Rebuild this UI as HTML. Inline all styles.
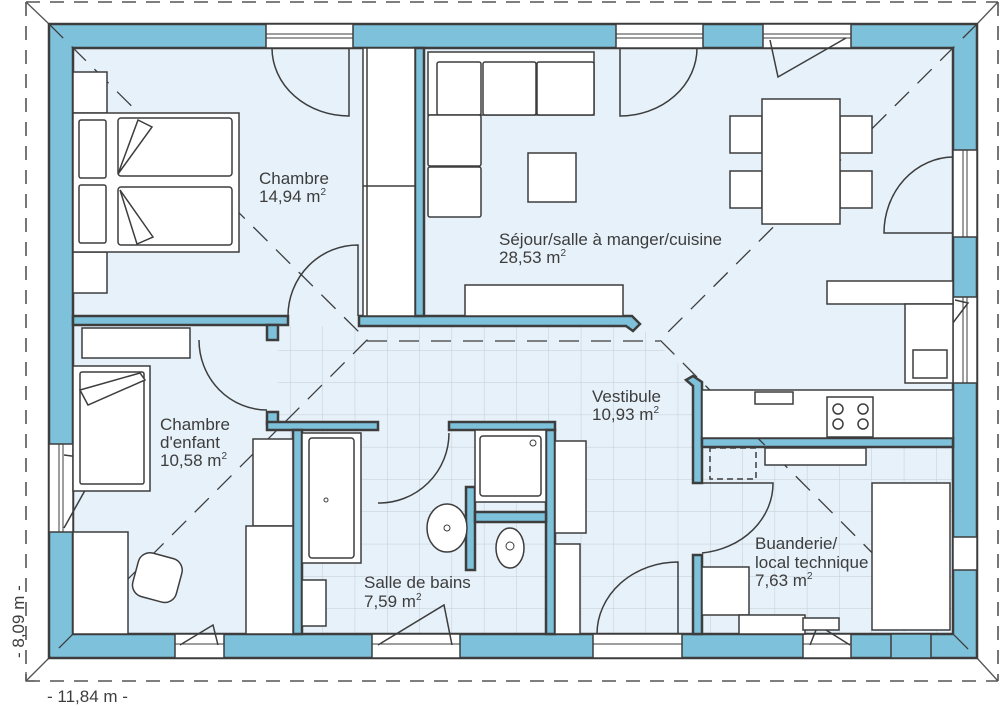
<!DOCTYPE html>
<html><head><meta charset="utf-8"><style>
html,body{margin:0;padding:0;background:#fff}
svg{display:block}
text{font-family:"Liberation Sans",sans-serif;font-size:17px;fill:#3d3d3d}
</style></head><body>
<svg width="1000" height="707" viewBox="0 0 1000 707" xmlns="http://www.w3.org/2000/svg">
<defs>
<pattern id="tiles" x="387" y="350" width="32.3" height="32.3" patternUnits="userSpaceOnUse">
<path d="M0 0V32.3M0 0H32.3" stroke="#c4ccd3" stroke-width="1" fill="none"/>
</pattern>
<clipPath id="tc"><polygon points="278,326 640,326 693,378 693,447 953,447 953,634 278,634"/></clipPath>
</defs>
<g stroke="#555" stroke-width="1.6" stroke-dasharray="14,10" fill="none">
<line x1="26" y1="2" x2="998" y2="2"/>
<line x1="26" y1="2" x2="26" y2="681"/>
<line x1="26" y1="681" x2="998" y2="681"/>
<line x1="998" y1="2" x2="998" y2="681"/>
</g>
<g stroke="#555" stroke-width="1.3" fill="none">
<line x1="26" y1="2" x2="49" y2="24"/><line x1="26" y1="681" x2="49" y2="658"/>
<line x1="998" y1="2" x2="977" y2="24"/><line x1="998" y1="681" x2="977" y2="658"/>
<path d="M26 672V681H35"/>
</g>
<rect x="73" y="48" width="880" height="586" fill="#e6f1f9"/>
<rect x="278" y="326" width="675" height="308" fill="url(#tiles)" clip-path="url(#tc)"/>
<path d="M49 24H977V658H49Z M73 48V634H953V48Z" fill="#7dc1da" fill-rule="evenodd" stroke="#3d3d3d" stroke-width="2.5"/>
<g fill="#7dc1da" stroke="#3d3d3d" stroke-width="2.5">
<rect x="73" y="316" width="215" height="9"/>
<rect x="267" y="325" width="11" height="15"/>
<path d="M359 316H632L640 324L633 331L626 326H359Z"/>
<rect x="415" y="48" width="9" height="268"/>
<rect x="267" y="412" width="11" height="12"/>
<rect x="267" y="422" width="111" height="8"/>
<rect x="293" y="430" width="9" height="204"/>
<rect x="449" y="422" width="106" height="8"/>
<rect x="546" y="430" width="9" height="204"/>
<rect x="466" y="487" width="9" height="83"/>
<rect x="475" y="512" width="71" height="10"/>
<path d="M686 380L693 376L702 382V483H693V386Z"/>
<rect x="693" y="555" width="9" height="79"/>
<rect x="702" y="438" width="251" height="9"/>
</g>
<g fill="#fff" stroke="#3d3d3d" stroke-width="1.5">
<rect x="266" y="24" width="87" height="24"/>
<rect x="616" y="24" width="87" height="24"/>
<rect x="763" y="24" width="88" height="24"/>
<rect x="953" y="150" width="24" height="87"/>
<rect x="953" y="297" width="24" height="86"/>
<rect x="953" y="537" width="24" height="33"/>
<rect x="49" y="444" width="24" height="88"/>
<rect x="175" y="634" width="49" height="24"/>
<rect x="372" y="634" width="88" height="24"/>
<rect x="593" y="634" width="89" height="24"/>
<rect x="803" y="634" width="48" height="24"/>
<rect x="891" y="634" width="40" height="24" fill="#7dc1da"/>
</g>
<g stroke="#3d3d3d" stroke-width="1" fill="none">
<path d="M266 34H353M266 38H353M616 34H703M616 38H703M763 34H851M763 38H851"/>
<path d="M963 150V237M967 150V237M963 297V383M967 297V383M63 444V532M59 444V532"/>
<path d="M175 644H224M372 644H460M593 644H682M803 644H851"/>
</g>
<g stroke="#3d3d3d" stroke-width="1.3" stroke-dasharray="20,12" fill="none">
<path d="M49 24L367 340L49 658"/>
<path d="M977 24L660 340L977 658"/>
<line x1="367" y1="341" x2="660" y2="341"/>
</g>
<g stroke="#3d3d3d" stroke-width="1.5" fill="none">
<path d="M272 48A77 68 0 0 0 349 116V48"/>
<path d="M358 316V245A70 71 0 0 0 288 316"/>
<path d="M697 48A77 68 0 0 1 620 116V48"/>
<path d="M953 233H884A70 76 0 0 1 953 157"/>
<path d="M199 340A68 70 0 0 0 267 410"/>
<path d="M449 433A70 70 0 0 1 378 503"/>
<path d="M702 483H773A80 70 0 0 1 702 553"/>
<path d="M678 634V562A81 72 0 0 0 597 634"/>
<path d="M770 40L778 77L846 38"/>
<path d="M64 455L102 460L64 528"/>
<path d="M180 645L213 625L218 645M378 645L444 605L452 645M810 645L818 625L850 645M955 300L968 303L940 340"/>
</g>
<g fill="#fff" stroke="#3d3d3d" stroke-width="1.5">
<rect x="73" y="72" width="34" height="41"/><rect x="73" y="252" width="34" height="41"/>
<rect x="73" y="113" width="166" height="139"/>
<rect x="79" y="120" width="27" height="58" rx="2"/><rect x="79" y="185" width="27" height="58" rx="2"/>
<rect x="118" y="118" width="114" height="58" rx="3"/><rect x="118" y="187" width="114" height="58" rx="3"/>
<path d="M118 174L138 120L152 127Z M120 190L137 244L153 237Z"/>
<rect x="363" y="48" width="52" height="268"/>
<path d="M367 48V316M363 186H415" fill="none"/>
<rect x="428" y="52" width="166" height="63"/>
<rect x="437" y="62" width="44" height="53" rx="2"/><rect x="483" y="62" width="53" height="53" rx="2"/><rect x="537" y="62" width="57" height="53" rx="2"/>
<rect x="428" y="115" width="53" height="51" rx="2"/><rect x="428" y="167" width="53" height="50" rx="2"/>
<rect x="528" y="153" width="48" height="49"/>
<rect x="465" y="285" width="158" height="31"/>
<rect x="730" y="116" width="32" height="37"/><rect x="730" y="171" width="32" height="37"/>
<rect x="840" y="116" width="32" height="37"/><rect x="840" y="171" width="32" height="37"/>
<rect x="762" y="99" width="78" height="125"/>
<rect x="827" y="281" width="126" height="23"/>
<rect x="905" y="304" width="48" height="79"/>
<rect x="913" y="350" width="34" height="28"/>
<rect x="702" y="390" width="251" height="48"/>
<rect x="755" y="392" width="38" height="12"/>
<rect x="827" y="397" width="46" height="40"/>
<circle cx="838" cy="409" r="5"/><circle cx="863" cy="409" r="5"/><circle cx="838" cy="424" r="5"/><circle cx="863" cy="424" r="5"/>
<rect x="82" y="328" width="108" height="30"/>
<rect x="73" y="366" width="77" height="125"/>
<rect x="80" y="372" width="64" height="112" rx="2"/>
<path d="M80 390L140 373L145 380L88 405Z"/>
<rect x="73" y="532" width="55" height="102"/>
<rect x="253" y="439" width="40" height="87"/>
<rect x="246" y="526" width="47" height="108"/>
<rect x="135" y="555" width="45" height="45" rx="12" transform="rotate(15 157 577)"/>
<rect x="302" y="433" width="59" height="130"/>
<rect x="309" y="438" width="45" height="120" rx="3"/>
<rect x="302" y="580" width="24" height="46"/>
<ellipse cx="447" cy="528" rx="20" ry="24"/>
<rect x="475" y="430" width="71" height="72"/>
<rect x="480" y="436" width="61" height="60" rx="3"/>
<ellipse cx="510" cy="548" rx="14" ry="20"/>
<rect x="555" y="441" width="31" height="92"/>
<rect x="555" y="544" width="25" height="90"/>
<rect x="765" y="448" width="101" height="17"/>
<rect x="872" y="483" width="78" height="147"/>
<rect x="702" y="567" width="47" height="48"/>
<rect x="739" y="615" width="66" height="19"/>
<rect x="803" y="618" width="36" height="12"/>
</g>
<rect x="710" y="448" width="46" height="31" fill="none" stroke="#3d3d3d" stroke-width="1.5" stroke-dasharray="6,4"/>
<circle cx="447" cy="528" r="3" fill="none" stroke="#3d3d3d"/>
<circle cx="510" cy="546" r="4" fill="none" stroke="#3d3d3d"/>
<circle cx="326" cy="500" r="2" fill="none" stroke="#3d3d3d"/>
<circle cx="533" cy="443" r="3" fill="none" stroke="#3d3d3d"/>
<text x="259" y="184">Chambre</text>
<text x="259" y="202">14,94 m<tspan font-size="10" dy="-7">2</tspan></text>
<text x="499" y="245">Séjour/salle à manger/cuisine</text>
<text x="499" y="263">28,53 m<tspan font-size="10" dy="-7">2</tspan></text>
<text x="592" y="402">Vestibule</text>
<text x="592" y="420">10,93 m<tspan font-size="10" dy="-7">2</tspan></text>
<text x="160" y="430">Chambre</text>
<text x="160" y="448">d'enfant</text>
<text x="160" y="466">10,58 m<tspan font-size="10" dy="-7">2</tspan></text>
<text x="364" y="588">Salle de bains</text>
<text x="364" y="607">7,59 m<tspan font-size="10" dy="-7">2</tspan></text>
<text x="755" y="549">Buanderie/</text>
<text x="755" y="568">local technique</text>
<text x="755" y="586">7,63 m<tspan font-size="10" dy="-7">2</tspan></text>
<text x="47" y="702">- 11,84 m -</text>
<text transform="translate(24,658) rotate(-90)">- 8,09 m -</text>
</svg>
</body></html>
